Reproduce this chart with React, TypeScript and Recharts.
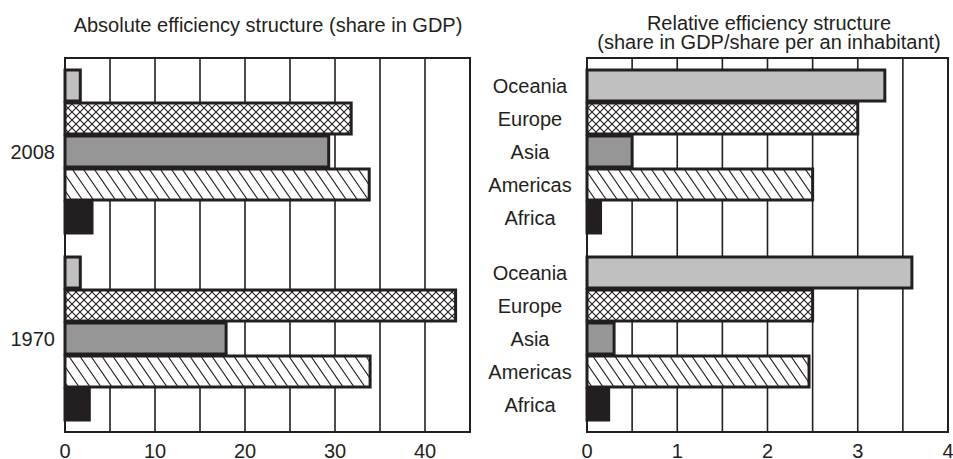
import React from "react";
import { Bar, BarChart, CartesianGrid, LabelList, ReferenceArea, XAxis, YAxis } from "recharts";

const years = ["2008", "1970"];
const regions = ["Oceania", "Europe", "Asia", "Americas", "Africa"];

// absolute efficiency, share in GDP (%)
const absOceania = [1.7, 1.7];
const absEurope = [31.8, 43.4];
const absAsia = [29.3, 17.9];
const absAmericas = [33.8, 33.9];
const absAfrica = [3.0, 2.7];

// relative efficiency, share in GDP / share in population
const relOceania = [3.3, 3.6];
const relEurope = [3.0, 2.5];
const relAsia = [0.5, 0.3];
const relAmericas = [2.5, 2.46];
const relAfrica = [0.15, 0.24];

// grid every 5 / 0.5, labels only on 10 / 1
const absGrid = [0, 5, 10, 15, 20, 25, 30, 35, 40, 45];
const relGrid = [0, 0.5, 1, 1.5, 2, 2.5, 3, 3.5, 4];

const ink = "#231f20";
const font = '"Liberation Sans", Arial, sans-serif';

const buildRows = (o: number[], e: number[], as: number[], am: number[], af: number[]) =>
  years.map((year, i) => ({
    year,
    Oceania: o[i],
    Europe: e[i],
    Asia: as[i],
    Americas: am[i],
    Africa: af[i],
  }));

const absData = buildRows(absOceania, absEurope, absAsia, absAmericas, absAfrica);
const relData = buildRows(relOceania, relEurope, relAsia, relAmericas, relAfrica);

const fills: Record<string, string> = {
  Oceania: "#c0c0c0",
  Europe: "url(#crossHatch)",
  Asia: "#969696",
  Americas: "url(#diagHatch)",
  Africa: ink,
};

const regionLabel = (name: string) => (props: any) => {
  const { x, y, height } = props;
  return (
    <text
      x={Number(x) - 57}
      y={Number(y) + Number(height) / 2}
      dy="0.355em"
      textAnchor="middle"
      fontSize={20}
      fontFamily={font}
      fill={ink}
    >
      {name}
    </text>
  );
};

const stepTick = (step: number, max: number) => (props: any) => {
  const v = Number(props.payload?.value);
  const show = Math.abs(v / step - Math.round(v / step)) < 1e-6 && v < max;
  if (!show) return <g />;
  return (
    <text x={props.x} y={props.y} dy="0.71em" textAnchor="middle" fontSize={20} fontFamily={font} fill={ink}>
      {v}
    </text>
  );
};

const relTick = (props: any) => {
  const v = Number(props.payload?.value);
  if (!Number.isInteger(v)) return <g />;
  return (
    <text x={props.x} y={props.y} dy="0.71em" textAnchor="middle" fontSize={20} fontFamily={font} fill={ink}>
      {v}
    </text>
  );
};

const tickStyle = { fontSize: 20, fontFamily: font, fill: ink };

export default function App() {
  const bars = (withLabels: boolean) =>
    regions.map((r) => (
      <Bar
        key={r}
        dataKey={r}
        fill={fills[r]}
        stroke={ink}
        strokeWidth={3}
        barSize={31}
        isAnimationActive={false}
      >
        {withLabels && <LabelList dataKey={r} content={regionLabel(r)} />}
      </Bar>
    ));

  return (
    <div
      style={{
        position: "absolute",
        left: 0,
        top: 0,
        width: 953,
        height: 459,
        background: "#fff",
        overflow: "hidden",
        fontFamily: font,
        color: ink,
      }}
    >
      <svg width={0} height={0} style={{ position: "absolute" }}>
        <defs>
          <pattern id="crossHatch" patternUnits="userSpaceOnUse" width={8} height={8}>
            <rect width={8} height={8} fill="#fff" />
            <path d="M0,0 L8,8 M8,0 L0,8" stroke={ink} strokeWidth={1.1} />
          </pattern>
          <pattern id="diagHatch" patternUnits="userSpaceOnUse" width={11} height={16}>
            <rect width={11} height={16} fill="#fff" />
            <path d="M-2,-2.9 L13,18.9 M9,-2.9 L13,2.9 M-2,13.1 L2,18.9" stroke={ink} strokeWidth={1.1} />
          </pattern>
        </defs>
      </svg>

      <div
        style={{
          position: "absolute",
          left: 0,
          width: 536,
          top: 15,
          fontSize: 20,
          lineHeight: "20px",
          textAlign: "center",
        }}
      >
        Absolute efficiency structure (share in GDP)
      </div>
      <div
        style={{
          position: "absolute",
          left: 569,
          width: 400,
          top: 14,
          fontSize: 20,
          lineHeight: "19px",
          textAlign: "center",
        }}
      >
        Relative efficiency structure
        <br />
        (share in GDP/share per an inhabitant)
      </div>

      <div style={{ position: "absolute", left: 0, top: 0 }}>
        <BarChart
          width={480}
          height={459}
          data={absData}
          layout="vertical"
          barGap={2}
          margin={{ top: 58, right: 10, bottom: 0, left: 0 }}
        >
          <CartesianGrid vertical horizontal={false} stroke={ink} strokeWidth={1.6} />
          <XAxis
            type="number"
            domain={[0, 45]}
            ticks={absGrid}
            interval={0}
            tickLine={false}
            tickSize={6}
            tickMargin={6}
            height={27}
            axisLine={{ stroke: ink, strokeWidth: 2 }}
            tick={stepTick(10, 45)}
          />
          <YAxis
            type="category"
            dataKey="year"
            width={65}
            tickLine={false}
            tickSize={6}
            tickMargin={4}
            axisLine={{ stroke: ink, strokeWidth: 2 }}
            tick={tickStyle}
          />
          <ReferenceArea x1={0} x2={45} fill="none" stroke={ink} strokeWidth={2} />
          {bars(false)}
        </BarChart>
      </div>

      <div style={{ position: "absolute", left: 480, top: 0 }}>
        <BarChart
          width={473}
          height={459}
          data={relData}
          layout="vertical"
          barGap={2}
          margin={{ top: 58, right: 5, bottom: 0, left: 107 }}
        >
          <CartesianGrid vertical horizontal={false} stroke={ink} strokeWidth={1.6} />
          <XAxis
            type="number"
            domain={[0, 4]}
            ticks={relGrid}
            interval={0}
            tickLine={false}
            tickSize={6}
            tickMargin={6}
            height={27}
            axisLine={{ stroke: ink, strokeWidth: 2 }}
            tick={relTick}
          />
          <YAxis type="category" dataKey="year" hide />
          <ReferenceArea x1={0} x2={4} fill="none" stroke={ink} strokeWidth={2} />
          {bars(true)}
        </BarChart>
      </div>
    </div>
  );
}
